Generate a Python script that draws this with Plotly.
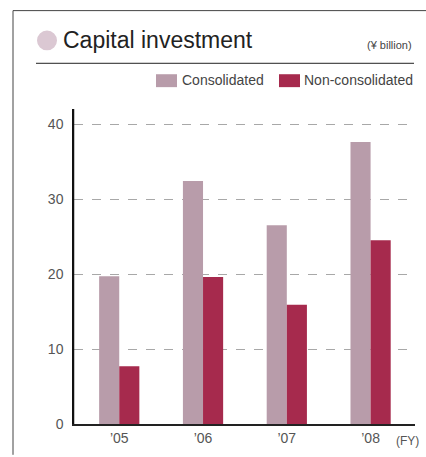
import plotly.graph_objects as go

years = ["’05", "’06", "’07", "’08"]
consolidated = [19.7, 32.4, 26.5, 37.6]
non_consolidated = [7.7, 19.6, 15.9, 24.5]
y_ticks = [0, 10, 20, 30, 40]

W, H = 426, 457
L, R, T, B = 74, 11, 109, 31
PW, PH = W - L - R, H - T - B

def px(x):
    return (x - L) / PW

def py(y):
    return (H - B - y) / PH

C1 = "#B89CAA"
C2 = "#A62A4D"
FONT = "Liberation Sans"

fig = go.Figure()
fig.add_trace(go.Bar(x=years, y=consolidated, name="Consolidated", marker_color=C1, marker_line_width=0))
fig.add_trace(go.Bar(x=years, y=non_consolidated, name="Non-consolidated", marker_color=C2, marker_line_width=0))

shapes = [
    dict(type="line", xref="paper", yref="paper", x0=px(13), x1=px(13), y0=py(10), y1=py(457), line=dict(color="#444", width=1)),
    dict(type="line", xref="paper", yref="paper", x0=px(13), x1=px(426), y0=py(10), y1=py(10), line=dict(color="#444", width=1)),
    dict(type="line", xref="paper", yref="paper", x0=px(36), x1=px(414), y0=py(63), y1=py(63), line=dict(color="#222", width=1)),
    dict(type="circle", xref="paper", yref="paper", x0=px(37), x1=px(57), y0=py(30), y1=py(50), fillcolor="#DBC8D3", line=dict(width=0)),
    dict(type="rect", xref="paper", yref="paper", x0=px(156), x1=px(177), y0=py(74), y1=py(87), fillcolor=C1, line=dict(width=0)),
    dict(type="rect", xref="paper", yref="paper", x0=px(279), x1=px(300), y0=py(74), y1=py(87), fillcolor=C2, line=dict(width=0)),
    dict(type="line", xref="paper", yref="paper", x0=px(73.5), x1=px(73.5), y0=0, y1=1, line=dict(color="#111", width=1.5)),
]

annotations = [
    dict(text="Capital investment", xref="paper", yref="paper", x=px(61), y=py(40), xanchor="left", yanchor="middle",
         showarrow=False, font=dict(family=FONT, size=23, color="#222")),
    dict(text="(¥ billion)", xref="paper", yref="paper", x=px(414), y=py(45), xanchor="right", yanchor="middle",
         showarrow=False, font=dict(family=FONT, size=11, color="#444")),
    dict(text="Consolidated", xref="paper", yref="paper", x=px(180), y=py(80), xanchor="left", yanchor="middle",
         showarrow=False, font=dict(family=FONT, size=14, color="#444")),
    dict(text="Non-consolidated", xref="paper", yref="paper", x=px(302), y=py(80), xanchor="left", yanchor="middle",
         showarrow=False, font=dict(family=FONT, size=14, color="#444")),
    dict(text="(FY)", xref="paper", yref="paper", x=px(421), y=py(443), xanchor="right", yanchor="middle",
         showarrow=False, font=dict(family=FONT, size=12, color="#555")),
]

fig.update_layout(
    width=W, height=H,
    margin=dict(l=L, r=R, t=T, b=B, pad=0),
    paper_bgcolor="white", plot_bgcolor="white",
    barmode="group", bargap=0.52, bargroupgap=0,
    showlegend=False,
    shapes=shapes, annotations=annotations,
    font=dict(family=FONT, color="#555"),
)
fig.update_xaxes(
    type="category", range=[-0.54, 3.53],
    showline=True, linecolor="#222", linewidth=1.5,
    showgrid=False, ticks="", tickfont=dict(size=14, color="#555"),
)
fig.update_yaxes(
    range=[0, 42], tickvals=y_ticks,
    showline=True, linecolor="#111", linewidth=1.5,
    showgrid=True, gridcolor="#A8A8A8", griddash="dash", gridwidth=1,
    zeroline=False, ticks="", ticklabelstandoff=6,
    tickfont=dict(size=14, color="#555"),
)

fig.write_html(
    "out.html",
    config={"displayModeBar": False},
    post_script="document.body.style.margin='0';document.body.style.overflow='hidden';",
)
